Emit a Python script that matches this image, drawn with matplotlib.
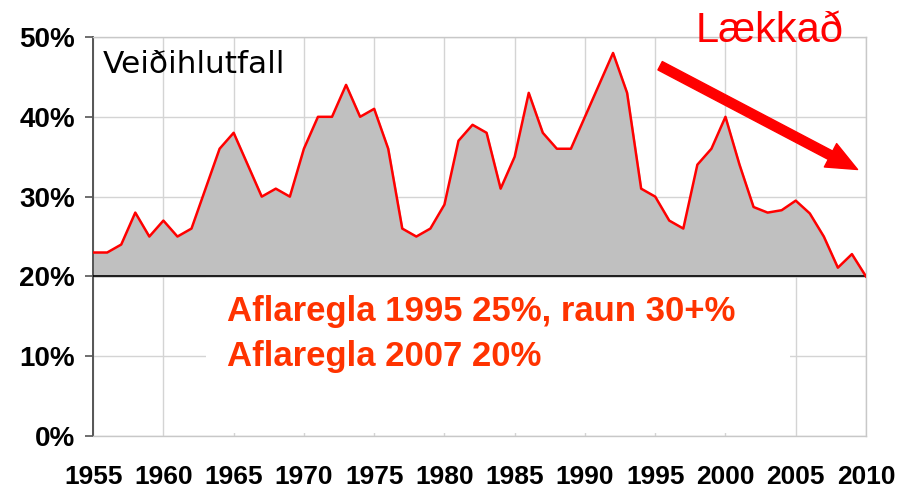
import matplotlib
matplotlib.use('Agg')
import matplotlib.pyplot as plt
from matplotlib.patches import Rectangle
from matplotlib.ticker import FuncFormatter

years = list(range(1955, 2011))
harvest_rate = [23, 23, 24, 28, 25, 27, 25, 26, 31, 36,
                38, 34, 30, 31, 30, 36, 40, 40, 44, 40,
                41, 36, 26, 25, 26, 29, 37, 39, 38, 31,
                35, 43, 38, 36, 36, 40, 44, 48, 43, 31,
                30, 27, 26, 34, 36, 40, 34, 28.7, 28.0, 28.3,
                29.5, 27.9, 25.0, 21.1, 22.8, 20.0]
year_ticks = list(range(1955, 2011, 5))
pct_ticks = [0, 10, 20, 30, 40, 50]

title_text = 'Veiðihlutfall'
trend_text = 'Lækkað'
rule_lines = ['Aflaregla 1995 25%, raun 30+%', 'Aflaregla 2007 20%']

fig = plt.figure(figsize=(9.13, 4.9), dpi=100)
ax = fig.add_axes([0.102, 0.110, 0.8465, 0.8145])

ax.set_xlim(1955, 2010)
ax.set_ylim(0, 50)
ax.set_axisbelow(True)
ax.grid(True, color='#d4d4d4', lw=1.0)

ax.fill_between(years, harvest_rate, 20, color='#c0c0c0', zorder=2)
ax.plot(years, harvest_rate, color='#ff0000', lw=1.8, zorder=4)
ax.axhline(20, color='black', lw=1.2, zorder=3)

# white text box hides the grid under the notes
ax.add_patch(Rectangle((1963.0, 0.4), 41.6, 19.5, facecolor='white',
                       edgecolor='none', zorder=1))

ax.set_xticks(year_ticks)
ax.set_yticks(pct_ticks)
ax.yaxis.set_major_formatter(FuncFormatter(lambda v, p: f'{v:.0f}%'))
ax.tick_params(axis='x', length=0, pad=21, labelsize=19)
ax.tick_params(axis='y', length=6, width=1.2, color='#555555', pad=7, labelsize=20)
for lab in ax.get_xticklabels() + ax.get_yticklabels():
    lab.set_fontfamily('Liberation Sans')
    lab.set_fontweight('bold')

for side in ['top', 'right', 'bottom']:
    ax.spines[side].set_color('#c8c8c8')
    ax.spines[side].set_linewidth(1.0)
ax.spines['left'].set_color('#555555')
ax.spines['left'].set_linewidth(1.4)

ax.text(1955.7, 45.5, title_text, fontsize=22.5, color='black',
        family='DejaVu Sans', va='baseline', ha='left', zorder=5)
ax.text(1997.85, 49.4, trend_text, fontsize=30, color='#ff0000',
        family='Liberation Sans', va='baseline', ha='left', clip_on=False, zorder=5)
ax.text(1964.5, 14.4, rule_lines[0], fontsize=25, color='#ff3300', fontweight='bold',
        family='Liberation Sans', va='baseline', ha='left', zorder=5)
ax.text(1964.5, 8.8, rule_lines[1], fontsize=25, color='#ff3300', fontweight='bold',
        family='Liberation Sans', va='baseline', ha='left', zorder=5)

ax.annotate('', xy=(2009.4, 33.4), xytext=(1995.35, 46.4),
            arrowprops=dict(arrowstyle='simple,head_length=1.1,head_width=0.95,tail_width=0.34',
                            color='#ff0000', mutation_scale=20, shrinkA=0, shrinkB=0),
            zorder=6)

fig.savefig('out.png', dpi=100)
